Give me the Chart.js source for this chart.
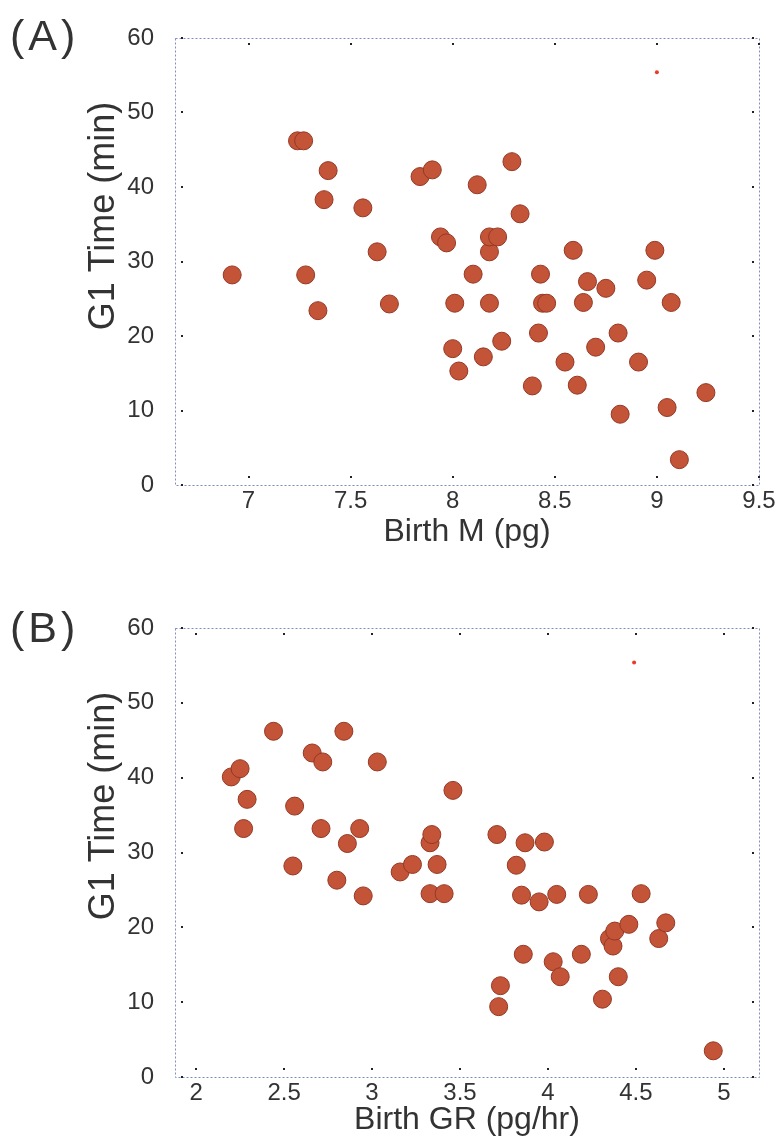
<!DOCTYPE html>
<html>
<head>
<meta charset="utf-8">
<script src="https://cdn.jsdelivr.net/npm/chart.js@4.4.1/dist/chart.umd.min.js"></script>
<style>
  html, body { margin: 0; padding: 0; background: #fff; }
  body { width: 782px; height: 1141px; position: relative; overflow: hidden;
         font-family: "Liberation Sans", Arial, sans-serif; }
  .panel { position: absolute; left: 0; width: 782px; }
  .tag { position: absolute; left: 10px; font-size: 43px; letter-spacing: 4px; color: #333; line-height: 1; }
</style>
</head>
<body>
<div class="panel" style="top:0;height:560px"><canvas id="chartA"></canvas></div>
<div class="panel" style="top:590px;height:551px"><canvas id="chartB"></canvas></div>
<div class="tag" style="top:14px">(A)</div>
<div class="tag" style="top:606px">(B)</div>

<script>
// Birth mass (pg) vs G1 duration (min)
const birthMass = [6.92, 7.24, 7.27, 7.28, 7.34, 7.37, 7.39, 7.56, 7.63, 7.69, 7.84, 7.90,
  7.94, 7.97, 8.01, 8.00, 8.03, 8.10, 8.12, 8.15, 8.18, 8.18, 8.22, 8.18, 8.24, 8.29, 8.33,
  8.39, 8.42, 8.43, 8.44, 8.46, 8.55, 8.59, 8.61, 8.64, 8.66, 8.70, 8.75, 8.81, 8.82, 8.91,
  8.95, 8.99, 9.05, 9.07, 9.11, 9.24];
const g1TimeA = [28.2, 46.2, 46.2, 28.2, 23.4, 38.3, 42.2, 37.2, 31.3, 24.3, 41.4, 42.3,
  33.3, 32.5, 24.4, 18.3, 15.3, 28.3, 40.3, 17.2, 31.3, 33.3, 33.3, 24.4, 19.3, 43.4, 36.4,
  13.3, 20.4, 28.3, 24.4, 24.4, 16.5, 31.5, 13.4, 24.5, 27.3, 18.5, 26.4, 20.4, 9.5, 16.5,
  27.5, 31.5, 10.4, 24.5, 3.4, 12.4];

// Birth growth rate (pg/hr) vs G1 duration (min)
const birthGR = [2.20, 2.25, 2.27, 2.29, 2.44, 2.55, 2.56, 2.66, 2.71, 2.72, 2.80, 2.84,
  2.86, 2.93, 2.95, 3.03, 3.16, 3.23, 3.33, 3.34, 3.33, 3.37, 3.41, 3.46, 3.71, 3.72, 3.73,
  3.82, 3.85, 3.86, 3.87, 3.95, 3.98, 4.03, 4.05, 4.07, 4.19, 4.23, 4.31, 4.35, 4.37, 4.38,
  4.40, 4.46, 4.53, 4.63, 4.67, 4.94];
const g1TimeB = [40.1, 41.2, 33.2, 37.1, 46.2, 28.2, 36.2, 43.3, 33.2, 42.1, 26.3, 46.2,
  31.2, 33.2, 24.2, 42.1, 27.4, 28.4, 31.3, 32.4, 24.5, 28.4, 24.5, 38.3, 32.4, 9.4, 12.2,
  28.3, 24.3, 16.4, 31.3, 23.4, 31.4, 15.4, 24.4, 13.4, 16.4, 24.4, 10.4, 18.5, 17.5, 19.5,
  13.4, 20.4, 24.5, 18.5, 20.6, 3.5];

// the little red marker near the top of each panel
const strayA = [9.0, 55.4];
const strayB = [4.49, 55.4];

const xTicksA = [7, 7.5, 8, 8.5, 9, 9.5];
const xTicksB = [2, 2.5, 3, 3.5, 4, 4.5, 5];
const yTicks = [0, 10, 20, 30, 40, 50, 60];

const textColor = '#333';
const fontFamily = '"Liberation Sans", Arial, sans-serif';
const dotFill = 'rgb(196,84,56)';
const dotEdge = 'rgb(148,56,36)';

// dashed frame, tiny inward tick dots, rotated y title
const framePlugin = {
  id: 'framePlugin',
  beforeDatasetsDraw(chart) {
    const { ctx, chartArea: a, scales: { x, y } } = chart;
    ctx.save();
    ctx.strokeStyle = 'rgba(105,120,185,0.85)';
    ctx.lineWidth = 1;
    ctx.setLineDash([2, 2]);
    ctx.strokeRect(a.left + 0.5, a.top + 0.5, a.width, a.height);
    ctx.setLineDash([]);
    ctx.fillStyle = '#222';
    x.ticks.forEach(t => {
      const px = Math.round(x.getPixelForValue(t.value));
      ctx.fillRect(px - 1, a.bottom - 9, 2, 2);
      ctx.fillRect(px - 1, a.top + 5, 2, 2);
    });
    y.ticks.forEach(t => {
      const py = Math.round(y.getPixelForValue(t.value));
      ctx.fillRect(a.left + 6, py - 1, 2, 2);
      ctx.fillRect(a.right - 7, py - 1, 2, 2);
    });
    ctx.restore();
  },
  afterDraw(chart, args, opts) {
    const { ctx, chartArea: a } = chart;
    ctx.save();
    ctx.translate(opts.x, a.top + opts.dy);
    ctx.rotate(-Math.PI / 2);
    ctx.font = '36px ' + fontFamily;
    ctx.fillStyle = textColor;
    ctx.textAlign = 'center';
    ctx.textBaseline = 'middle';
    ctx.fillText(opts.text, 0, 0);
    ctx.restore();
  }
};

function makePanel(id, xs, ys, stray, xTicks, xMin, xMax, xTitle, xAxisHeight, titlePad) {
  const pts = xs.map((v, i) => ({ x: v, y: ys[i] }));
  return new Chart(document.getElementById(id), {
    type: 'scatter',
    data: {
      datasets: [{
        data: pts,
        pointRadius: 9,
        pointHoverRadius: 9,
        backgroundColor: dotFill,
        borderColor: dotEdge,
        borderWidth: 1
      }, {
        data: [{ x: stray[0], y: stray[1] }],
        pointRadius: 2,
        backgroundColor: 'rgb(232,60,40)',
        borderWidth: 0
      }]
    },
    options: {
      responsive: true,
      maintainAspectRatio: false,
      animation: false,
      layout: { padding: { top: 38, right: 23, left: 0, bottom: 0 } },
      plugins: {
        legend: { display: false },
        tooltip: { enabled: false },
        framePlugin: { text: 'G1 Time (min)', x: 104, dy: 178 }
      },
      scales: {
        x: {
          type: 'linear',
          min: xMin,
          max: xMax,
          afterBuildTicks: s => { s.ticks = xTicks.map(v => ({ value: v })); },
          afterFit: s => { s.height = xAxisHeight; },
          grid: { display: false },
          border: { display: false },
          ticks: {
            color: textColor,
            font: { size: 24, family: fontFamily },
            padding: -6,
            maxRotation: 0,
            autoSkip: false,
            callback: v => String(v)
          },
          title: {
            display: true,
            text: xTitle,
            color: textColor,
            font: { size: 32, family: fontFamily },
            padding: { top: 0, bottom: titlePad }
          }
        },
        y: {
          min: 0,
          max: 60,
          afterBuildTicks: s => { s.ticks = yTicks.map(v => ({ value: v })); },
          afterFit: s => { s.width = 175; },
          grid: { display: false },
          border: { display: false },
          ticks: {
            color: textColor,
            font: { size: 24, family: fontFamily },
            padding: 13,
            callback: v => String(v)
          }
        }
      }
    },
    plugins: [framePlugin]
  });
}

makePanel('chartA', birthMass, g1TimeA, strayA, xTicksA, 6.64, 9.5, 'Birth M (pg)', 75, 9);
makePanel('chartB', birthGR, g1TimeB, strayB, xTicksB, 1.88, 5.2, 'Birth GR (pg/hr)', 64, 2);
</script>
</body>
</html>
